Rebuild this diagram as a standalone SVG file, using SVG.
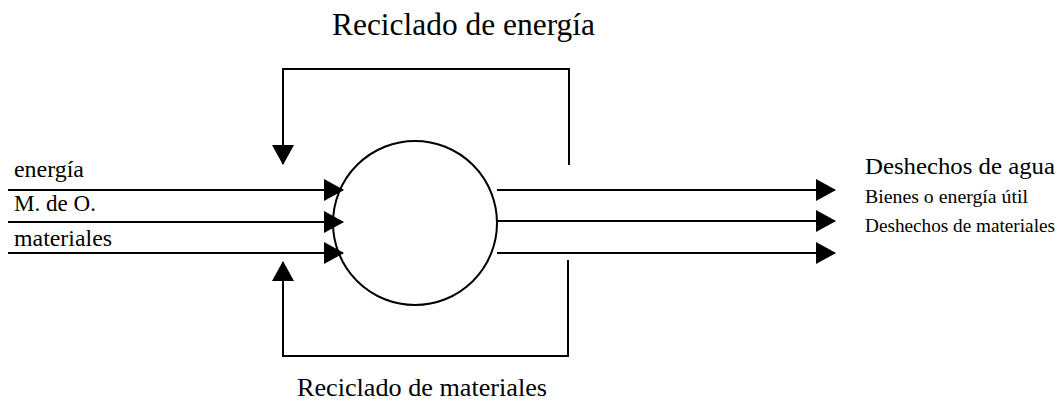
<svg xmlns="http://www.w3.org/2000/svg" width="1058" height="419" viewBox="0 0 1058 419">
<style>
.ln{fill:none;stroke:#000;stroke-width:2}
.t{font-family:"Liberation Serif","Times New Roman",serif;fill:#000}
</style>
<defs>
<marker id="ah" viewBox="0 0 20 22" refX="19" refY="11" markerWidth="20" markerHeight="22" markerUnits="userSpaceOnUse" orient="auto">
<path d="M0,0 L20,11 L0,22 Z" fill="#000"/>
</marker>
</defs>
<rect width="1058" height="419" fill="#fff"/>
<g id="process">
<circle cx="415" cy="223" r="82" class="ln"/>
</g>
<g id="connectors">
<path class="ln" d="M8,190 H343" marker-end="url(#ah)"/>
<path class="ln" d="M8,222 H343" marker-end="url(#ah)"/>
<path class="ln" d="M8,253 H343" marker-end="url(#ah)"/>
<path class="ln" d="M497,190 H835" marker-end="url(#ah)"/>
<path class="ln" d="M497,221 H835" marker-end="url(#ah)"/>
<path class="ln" d="M497,253 H835" marker-end="url(#ah)"/>
<path class="ln" d="M569,165 V69 H283 V164" marker-end="url(#ah)"/>
<path class="ln" d="M568,260 V356 H283 V262" marker-end="url(#ah)"/>
</g>
<g id="labels">
<text class="t" x="332" y="35" font-size="31" textLength="263" lengthAdjust="spacingAndGlyphs">Reciclado de energía</text>
<text class="t" x="297" y="396" font-size="26" textLength="250" lengthAdjust="spacingAndGlyphs">Reciclado de materiales</text>
<text class="t" x="14" y="177" font-size="23.5" textLength="70" lengthAdjust="spacingAndGlyphs">energía</text>
<text class="t" x="14" y="211" font-size="23.5" textLength="82" lengthAdjust="spacingAndGlyphs">M. de O.</text>
<text class="t" x="14" y="246" font-size="23.5" textLength="98" lengthAdjust="spacingAndGlyphs">materiales</text>
<text class="t" x="865" y="174" font-size="24" textLength="190" lengthAdjust="spacingAndGlyphs">Deshechos de agua</text>
<text class="t" x="865" y="203" font-size="19.5" textLength="163" lengthAdjust="spacingAndGlyphs">Bienes o energía útil</text>
<text class="t" x="865" y="232" font-size="18" textLength="190" lengthAdjust="spacingAndGlyphs">Deshechos de materiales</text>
</g>
</svg>
